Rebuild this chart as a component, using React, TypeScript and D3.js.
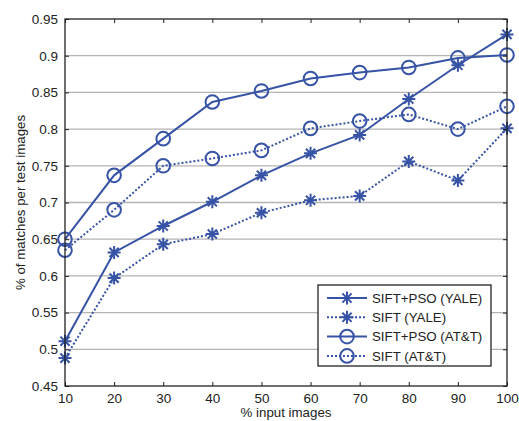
import React, { useEffect, useRef } from 'react';
import * as d3 from 'd3';

const inputPct = [10, 20, 30, 40, 50, 60, 70, 80, 90, 100];
const psoYale = [0.511, 0.632, 0.668, 0.701, 0.737, 0.767, 0.792, 0.841, 0.887, 0.929];
const siftYale = [0.488, 0.597, 0.643, 0.657, 0.686, 0.703, 0.709, 0.756, 0.730, 0.801];
const psoAtt = [0.650, 0.737, 0.787, 0.837, 0.852, 0.869, 0.877, 0.884, 0.897, 0.901];
const siftAtt = [0.635, 0.690, 0.750, 0.760, 0.771, 0.801, 0.811, 0.820, 0.800, 0.831];
const seriesNames = ['SIFT+PSO (YALE)', 'SIFT (YALE)', 'SIFT+PSO (AT&T)', 'SIFT (AT&T)'];
const yTicks = [0.45, 0.5, 0.55, 0.6, 0.65, 0.7, 0.75, 0.8, 0.85, 0.9, 0.95];

const blue = '#3653a5';

function starPath(s: number) {
  const d = s * 0.7071;
  return `M${-s},0L${s},0M0,${-s}L0,${s}M${-d},${-d}L${d},${d}M${-d},${d}L${d},${-d}`;
}

function Chart() {
  const ref = useRef<SVGSVGElement>(null);

  useEffect(() => {
    const width = 519;
    const height = 421;
    const margin = { top: 19, left: 65, bottom: 35, right: 12 };
    const iw = width - margin.left - margin.right;
    const ih = height - margin.top - margin.bottom;

    const svg = d3.select(ref.current);
    svg.selectAll('*').remove();
    svg.attr('width', width).attr('height', height)
      .style('font-family', '"Liberation Sans", Arial, sans-serif');

    const g = svg.append('g').attr('transform', `translate(${margin.left},${margin.top})`);

    const x = d3.scaleLinear().domain([10, 100]).range([0, iw]);
    const y = d3.scaleLinear().domain([0.45, 0.95]).range([ih, 0]);

    // grid
    g.selectAll('.grid')
      .data(yTicks.slice(1, -1))
      .enter()
      .append('line')
      .attr('x1', 0)
      .attr('x2', iw)
      .attr('y1', d => y(d))
      .attr('y2', d => y(d))
      .attr('stroke', '#b4b4b4')
      .attr('stroke-width', 1.3);

    const series = [
      { vals: psoYale, dash: null, marker: 'star' },
      { vals: siftYale, dash: '2,2', marker: 'star' },
      { vals: psoAtt, dash: null, marker: 'circle' },
      { vals: siftAtt, dash: '2,2', marker: 'circle' },
    ];

    const line = d3.line<number>()
      .x((_, i) => x(inputPct[i]))
      .y(d => y(d));

    series.forEach(s => {
      g.append('path')
        .attr('d', line(s.vals))
        .attr('fill', 'none')
        .attr('stroke', blue)
        .attr('stroke-width', 2)
        .attr('stroke-dasharray', s.dash);
      const mk = g.selectAll(null)
        .data(s.vals)
        .enter()
        .append('g')
        .attr('transform', (d, i) => `translate(${x(inputPct[i])},${y(d)})`);
      if (s.marker === 'star') {
        mk.append('path').attr('d', starPath(6.5)).attr('stroke', blue).attr('stroke-width', 2).attr('fill', 'none');
      } else {
        mk.append('circle').attr('r', 6.8).attr('stroke', blue).attr('stroke-width', 2).attr('fill', 'none');
      }
    });

    // frame
    g.append('rect')
      .attr('width', iw)
      .attr('height', ih)
      .attr('fill', 'none')
      .attr('stroke', '#222')
      .attr('stroke-width', 1.3);

    const xAxis = g.append('g')
      .attr('transform', `translate(0,${ih})`)
      .call(d3.axisBottom(x).tickValues(inputPct).tickSize(-4).tickPadding(7).tickFormat(d3.format('d')));
    xAxis.select('.domain').remove();
    xAxis.selectAll('text').attr('font-size', 13.5).attr('fill', '#222').attr('font-family', null);
    xAxis.selectAll('line').attr('stroke', '#222');

    const xTop = g.append('g')
      .call(d3.axisTop(x).tickValues(inputPct).tickSize(-4).tickFormat(() => ''));
    xTop.select('.domain').remove();
    xTop.selectAll('line').attr('stroke', '#222');

    const yAxis = g.append('g')
      .call(d3.axisLeft(y).tickValues(yTicks).tickSize(-4).tickPadding(7).tickFormat(d => `${+d}`));
    yAxis.select('.domain').remove();
    yAxis.selectAll('text').attr('font-size', 13.5).attr('fill', '#222').attr('font-family', null);
    yAxis.selectAll('line').attr('stroke', '#222');

    const yRight = g.append('g')
      .attr('transform', `translate(${iw},0)`)
      .call(d3.axisRight(y).tickValues(yTicks).tickSize(-4).tickFormat(() => ''));
    yRight.select('.domain').remove();
    yRight.selectAll('line').attr('stroke', '#222');

    // axis labels
    svg.append('text')
      .attr('x', margin.left + iw / 2)
      .attr('y', height - 4)
      .attr('text-anchor', 'middle')
      .attr('font-size', 13.3)
      .attr('fill', '#222')
      .text('% input images');

    svg.append('text')
      .attr('transform', `translate(25,${margin.top + ih / 2}) rotate(-90)`)
      .attr('text-anchor', 'middle')
      .attr('font-size', 13.3)
      .attr('fill', '#222')
      .text('% of matches per test images');

    // legend
    const lg = svg.append('g').attr('transform', 'translate(318,285)');
    lg.append('rect')
      .attr('width', 173)
      .attr('height', 81)
      .attr('fill', '#fff')
      .attr('stroke', '#222')
      .attr('stroke-width', 1.3);
    series.forEach((s, i) => {
      const row = lg.append('g').attr('transform', `translate(0,${13 + i * 19.3})`);
      row.append('line')
        .attr('x1', 9).attr('x2', 49)
        .attr('stroke', blue).attr('stroke-width', 2)
        .attr('stroke-dasharray', s.dash);
      if (s.marker === 'star') {
        row.append('path').attr('transform', 'translate(29,0)').attr('d', starPath(6.5))
          .attr('stroke', blue).attr('stroke-width', 2).attr('fill', 'none');
      } else {
        row.append('circle').attr('cx', 29).attr('r', 6.8)
          .attr('stroke', blue).attr('stroke-width', 2).attr('fill', 'none');
      }
      row.append('text')
        .attr('x', 54)
        .attr('dy', '0.35em')
        .attr('font-size', 13.3)
        .attr('fill', '#222')
        .text(seriesNames[i]);
    });
  }, []);

  return <svg ref={ref} style={{ display: 'block', position: 'absolute', left: 0, top: 0 }} />;
}

export default function App() {
  return <Chart />;
}
